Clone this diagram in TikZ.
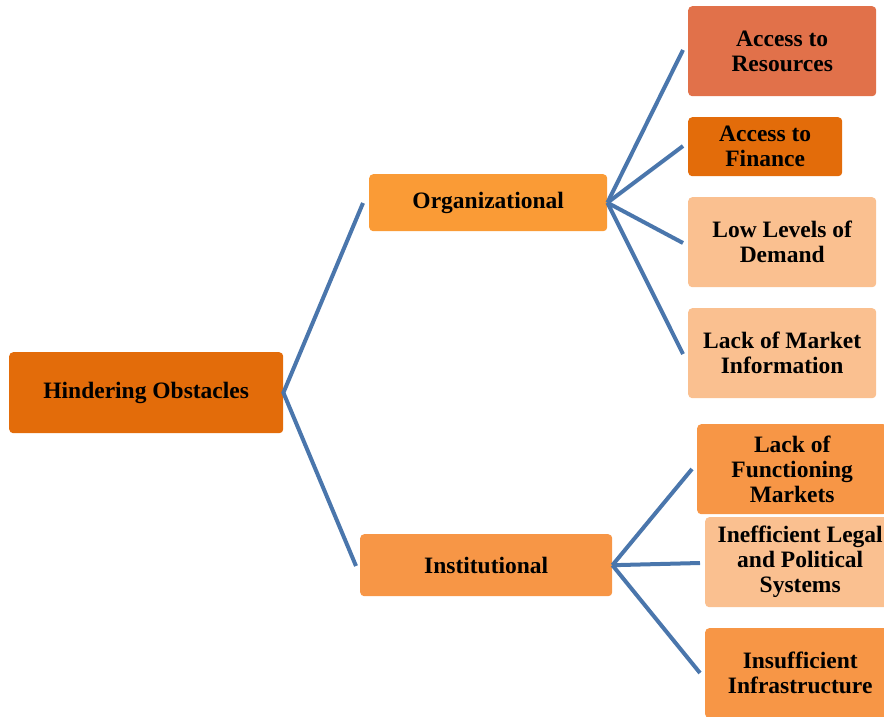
\documentclass[tikz,border=0pt]{standalone}
\usepackage{fontspec}
\setmainfont{Liberation Serif}
\definecolor{darkor}{HTML}{E36C0A}
\definecolor{orgor}{HTML}{FA9B36}
\definecolor{resor}{HTML}{E1714A}
\definecolor{midor}{HTML}{F79646}
\definecolor{lightor}{HTML}{FAC090}
\definecolor{conn}{HTML}{4A76AC}
\tikzset{
  box/.style={rectangle, rounded corners=4pt, anchor=north west, inner sep=0pt,
    align=center, font=\fontsize{23.5}{25}\selectfont\bfseries, text=black},
  link/.style={draw=conn, line width=4pt},
}
\begin{document}
\begin{tikzpicture}[x=1pt,y=-1pt]
\useasboundingbox (0,0) rectangle (884,717);
\node[box, fill=darkor, minimum width=274pt, minimum height=81pt] (hind) at (9,352) {Hindering Obstacles};
\node[box, fill=orgor, minimum width=238pt, minimum height=57pt] (org) at (369,174) {Organizational};
\node[box, fill=midor, minimum width=252pt, minimum height=62pt] (inst) at (360,534) {Institutional};
\node[box, fill=resor, minimum width=188pt, minimum height=90pt] (res) at (688,6) {Access to\\Resources};
\node[box, fill=darkor, minimum width=154pt, minimum height=59pt] (fin) at (688,117) {Access to\\Finance};
\node[box, fill=lightor, minimum width=188pt, minimum height=90pt] (dem) at (688,197) {Low Levels of\\Demand};
\node[box, fill=lightor, minimum width=188pt, minimum height=90pt] (info) at (688,308) {Lack of Market\\Information};
\node[box, fill=midor, minimum width=190pt, minimum height=90pt] (func) at (697,424) {Lack of\\Functioning\\Markets};
\node[box, fill=lightor, minimum width=190pt, minimum height=90pt] (legal) at (705,517) {Inefficient Legal\\and Political\\Systems};
\node[box, fill=midor, minimum width=190pt, minimum height=90pt] (infra) at (705,628) {Insufficient\\Infrastructure};
\coordinate (hu) at (363,203);
\coordinate (hl) at (356,566);
\coordinate (o1) at (683,50);
\coordinate (o2) at (683,146);
\coordinate (o3) at (683,243);
\coordinate (o4) at (683,354);
\coordinate (i1) at (692,469);
\coordinate (i2) at (700,563);
\coordinate (i3) at (700,673);
\draw[link] (hu) -- (hind.east) -- (hl);
\draw[link] (org.east) -- (o1);
\draw[link] (org.east) -- (o2);
\draw[link] (org.east) -- (o3);
\draw[link] (org.east) -- (o4);
\draw[link] (inst.east) -- (i1);
\draw[link] (inst.east) -- (i2);
\draw[link] (inst.east) -- (i3);
\end{tikzpicture}
\end{document}
